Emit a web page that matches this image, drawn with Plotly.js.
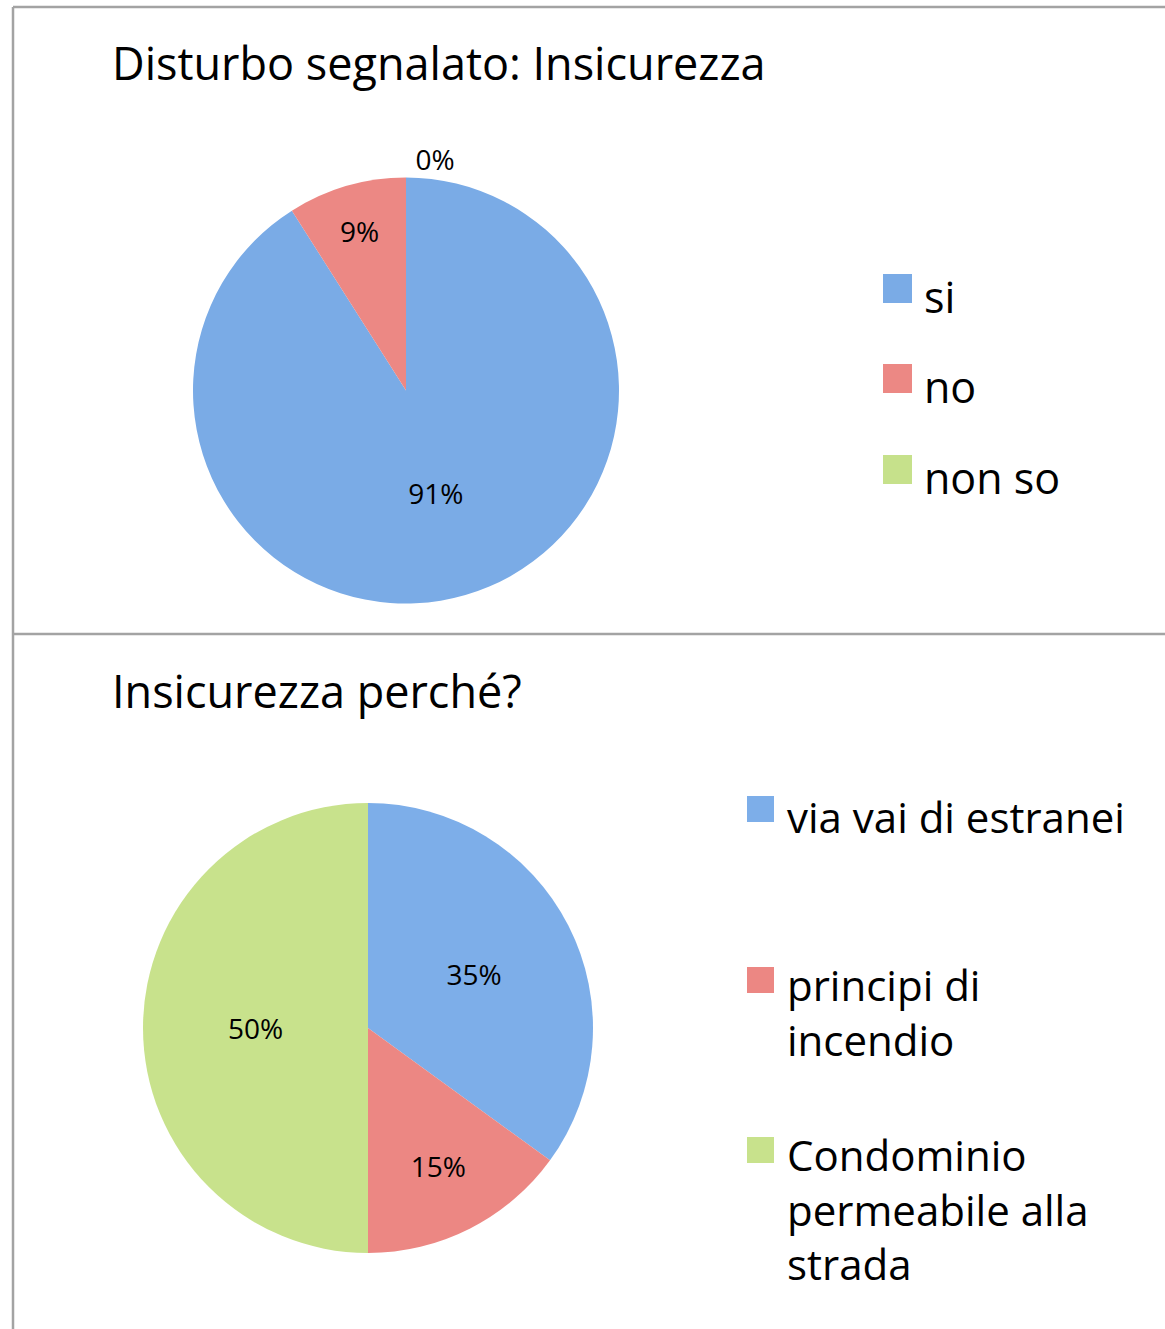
<!DOCTYPE html>
<html><head><meta charset="utf-8">
<script src="https://cdn.plot.ly/plotly-3.0.1.min.js"></script>
<style>html,body{margin:0;padding:0;background:#fff;} #chart{width:1165px;height:1329px;}</style>
</head><body><div id="chart"></div>
<script>
const W = 1165, H = 1329;

const chart1Title = 'Disturbo segnalato: Insicurezza';
const chart1Labels = ['si', 'no', 'non so'];
const chart1Values = [91, 9, 0];
const chart1Colors = ['#7aabe6', '#ec8884', '#c6e18b'];

const chart2Title = 'Insicurezza perché?';
const chart2Labels = ['via vai di estranei', 'principi di<br>incendio', 'Condominio<br>permeabile alla<br>strada'];
const chart2Values = [35, 15, 50];
const chart2Colors = ['#7daee9', '#ec8783', '#c8e28c'];

const FONT = 'Open Sans, sans-serif';
const px = x => x / W;
const py = y => 1 - y / H;

const pie1 = {
  type: 'pie', labels: chart1Labels, values: chart1Values,
  marker: {colors: chart1Colors, line: {width: 0}},
  sort: false, direction: 'clockwise', rotation: 0,
  texttemplate: '%{value}%', textposition: ['inside', 'inside', 'outside'],
  insidetextorientation: 'horizontal',
  textfont: {family: FONT, size: 28, color: '#000'},
  domain: {x: [px(193), px(619)], y: [py(604), py(177)]},
  showlegend: false, hoverinfo: 'label+percent'
};
const pie2 = {
  type: 'pie', labels: chart2Labels, values: chart2Values,
  marker: {colors: chart2Colors, line: {width: 0}},
  sort: false, direction: 'clockwise', rotation: 0,
  texttemplate: '%{value}%', textposition: 'inside',
  insidetextorientation: 'horizontal',
  textfont: {family: FONT, size: 28, color: '#000'},
  domain: {x: [px(143), px(593)], y: [py(1253), py(803)]},
  showlegend: false, hoverinfo: 'label+percent'
};

const shapes = [
  {type: 'line', xref: 'paper', yref: 'paper', x0: px(13), x1: px(13), y0: py(7), y1: py(1329), line: {color: '#a3a3a3', width: 2.5}},
  {type: 'line', xref: 'paper', yref: 'paper', x0: px(13), x1: 1, y0: py(7), y1: py(7), line: {color: '#a3a3a3', width: 2.5}},
  {type: 'line', xref: 'paper', yref: 'paper', x0: px(13), x1: 1, y0: py(634), y1: py(634), line: {color: '#a3a3a3', width: 2.5}}
];
const annotations = [
  {text: chart1Title, xref: 'paper', yref: 'paper', x: px(110), y: py(63), xanchor: 'left', yanchor: 'middle', showarrow: false, font: {family: FONT, size: 45, color: '#000'}},
  {text: chart2Title, xref: 'paper', yref: 'paper', x: px(110), y: py(690), xanchor: 'left', yanchor: 'middle', showarrow: false, font: {family: FONT, size: 45, color: '#000'}}
];

// legend 1
const leg1SquareTops = [274, 364, 455];
const leg1TextTops = [265, 355, 446];
chart1Labels.forEach((lab, i) => {
  shapes.push({type: 'rect', xref: 'paper', yref: 'paper', x0: px(883), x1: px(912), y0: py(leg1SquareTops[i] + 29), y1: py(leg1SquareTops[i]), fillcolor: chart1Colors[i], line: {width: 0}});
  annotations.push({text: lab, xref: 'paper', yref: 'paper', x: px(922), y: py(leg1TextTops[i]), xanchor: 'left', yanchor: 'top', align: 'left', showarrow: false, font: {family: FONT, size: 43, color: '#000'}});
});
// legend 2
const leg2SquareTops = [796, 967, 1137];
const leg2TextTops = [786, 954, 1124];
chart2Labels.forEach((lab, i) => {
  shapes.push({type: 'rect', xref: 'paper', yref: 'paper', x0: px(747), x1: px(774), y0: py(leg2SquareTops[i] + 26), y1: py(leg2SquareTops[i]), fillcolor: chart2Colors[i], line: {width: 0}});
  annotations.push({text: lab, xref: 'paper', yref: 'paper', x: px(785), y: py(leg2TextTops[i]), xanchor: 'left', yanchor: 'top', align: 'left', showarrow: false, font: {family: FONT, size: 42, color: '#000'}});
});

const layout = {
  width: W, height: H, margin: {l: 0, r: 0, t: 0, b: 0},
  paper_bgcolor: '#fff', plot_bgcolor: '#fff',
  showlegend: false, shapes: shapes, annotations: annotations,
  font: {family: FONT}
};
Plotly.newPlot('chart', [pie1, pie2], layout, {displayModeBar: false, staticPlot: true});
</script>
</body></html>
